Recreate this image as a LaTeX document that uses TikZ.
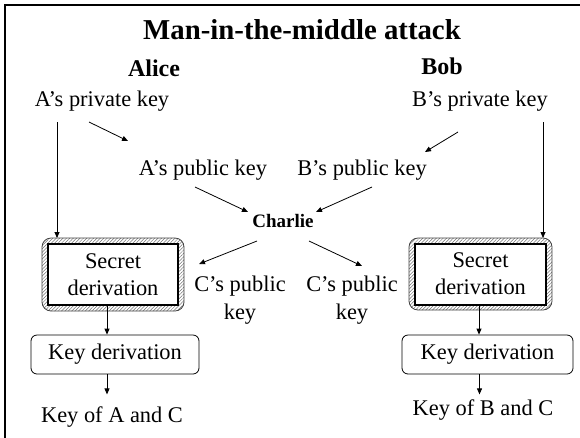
\documentclass[tikz,border=0pt]{standalone}
\usepackage{fontspec}
\setmainfont{Liberation Serif}
\usetikzlibrary{arrows.meta,patterns.meta}

\begin{document}
\begin{tikzpicture}[x=1pt,y=-1pt,
  txt/.style={font=\fontsize{22.4}{28}\selectfont, inner sep=0pt, align=center},
  who/.style={font=\fontsize{24}{28}\selectfont\bfseries, inner sep=0pt},
  arr/.style={-{Triangle[length=6pt,width=5pt]}, line width=0.8pt},
  hatchring/.style={pattern={Lines[angle=45,distance=2.4pt,line width=0.5pt]},
    pattern color=black!55, draw=black!75, line width=0.8pt, rounded corners=9pt},
  secbox/.style={draw, line width=2pt, fill=white, inner sep=0pt,
    font=\fontsize{22.4}{27}\selectfont, align=center, minimum height=61pt},
  kdbox/.style={draw, line width=0.8pt, rounded corners=6pt, inner sep=0pt,
    font=\fontsize{22.4}{27}\selectfont, minimum height=39pt},
]
\useasboundingbox (0,0) rectangle (580,437);

% outer frame
\draw[line width=2.5pt] (5,460) -- (5,5) -- (600,5);

% headings
\node[font=\fontsize{28.8}{32}\selectfont\bfseries, inner sep=0pt] (title) at (302,30) {Man-in-the-middle attack};
\node[who] (alice) at (154,68) {Alice};
\node[who] (bob) at (442,66) {Bob};

% key texts
\node[txt] (apriv) at (102,101) {A’s private key};
\node[txt] (bpriv) at (480,101) {B’s private key};
\node[txt] (apub) at (203,170) {A’s public key};
\node[txt] (bpub) at (362,170) {B’s public key};
\node[font=\fontsize{19}{22}\selectfont\bfseries, inner sep=0pt] (charlie) at (283,221) {Charlie};
\node[txt] (cpubl) at (240,300) {C’s public\\key};
\node[txt] (cpubr) at (352,300) {C’s public\\key};

% secret derivation boxes with hatched rim
\path[hatchring] (42,238) rectangle (184,311);
\node[secbox, minimum width=130pt] (asec) at (113,274.5) {Secret\\derivation};
\path[hatchring] (409,238) rectangle (552,310);
\node[secbox, minimum width=131pt] (bsec) at (480.5,274) {Secret\\derivation};

% key derivation boxes
\node[kdbox, minimum width=168pt] (akd) at (115,354.5) {Key derivation};
\node[kdbox, minimum width=171pt] (bkd) at (487.5,354.5) {Key derivation};

% resulting keys
\node[txt] (akey) at (112,417) {Key of A and C};
\node[txt] (bkey) at (483,410) {Key of B and C};

% arrow end points
\coordinate (a1) at (89,122);  \coordinate (a2) at (128,141);
\coordinate (b1) at (458,132); \coordinate (b2) at (425,152);
\coordinate (c1) at (195,187); \coordinate (c2) at (248,212);
\coordinate (d1) at (372,187); \coordinate (d2) at (316,212);
\coordinate (e1) at (257,241); \coordinate (e2) at (199,264);
\coordinate (f1) at (309,241); \coordinate (f2) at (362,266);
\coordinate (av) at (57,122);
\coordinate (bv) at (543,122);

% private keys to public keys
\draw[arr] (a1) -- (a2);
\draw[arr] (b1) -- (b2);
% public keys intercepted by Charlie
\draw[arr] (c1) -- (c2);
\draw[arr] (d1) -- (d2);
\draw[arr] (e1) -- (e2);
\draw[arr] (f1) -- (f2);

% private keys straight down into the secret derivations
\draw[arr] (av) -- (av |- 0,238);
\draw[arr] (bv) -- (bv |- 0,238);

% secret -> key derivation -> final key
\draw[arr] ([xshift=-6pt]asec.south) -- ([xshift=-8pt]akd.north);
\draw[arr] ([xshift=-1.5pt]bsec.south) -- ([xshift=-8.5pt]bkd.north);
\draw[arr] ([xshift=-8pt]akd.south) -- ++(0,20);
\draw[arr] ([xshift=-8pt]bkd.south) -- ++(0,20);
\end{tikzpicture}
\end{document}
